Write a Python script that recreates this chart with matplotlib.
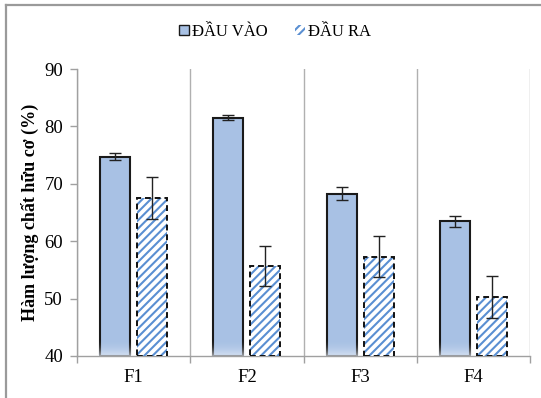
import numpy as np
import matplotlib
matplotlib.use("Agg")
import matplotlib.pyplot as plt
from matplotlib.patches import Patch
from matplotlib.lines import Line2D

categories = ["F1", "F2", "F3", "F4"]
series_names = ["ĐẦU VÀO", "ĐẦU RA"]
dau_vao = [74.7, 81.5, 68.3, 63.5]
dau_vao_err = [0.6, 0.45, 1.2, 0.95]
dau_ra = [67.5, 55.7, 57.3, 50.3]
dau_ra_err = [3.6, 3.55, 3.6, 3.6]
y_ticks = [40, 50, 60, 70, 80, 90]
y_label = "Hàm lượng chất hữu cơ (%)"

plt.rcParams["font.family"] = ["Liberation Serif", "DejaVu Serif"]
plt.rcParams["hatch.linewidth"] = 1.5

fig = plt.figure(figsize=(5.41, 3.98), dpi=100)
ax = fig.add_axes([77 / 541, 1 - 356 / 398, 453 / 541, 287 / 398])

x = np.arange(len(categories)) + 0.5
width = 0.265
offset = 0.164
fill_blue = "#a8c1e4"
stripe_blue = "#5a8fd2"

ax.bar(x - offset, [v - 40 for v in dau_vao], width, bottom=40,
       color=fill_blue, edgecolor="#1a1a1a", linewidth=1.5, zorder=3)
ax.bar(x + offset, [v - 40 for v in dau_ra], width, bottom=40,
       color="white", edgecolor=stripe_blue, linewidth=0, hatch="////", zorder=3)
# dashed black outline for the output bars
ax.bar(x + offset, [v - 40 for v in dau_ra], width, bottom=40,
       fill=False, edgecolor="#111111", linewidth=1.4, linestyle=(0, (3, 2)), zorder=4)

ax.errorbar(x - offset, dau_vao, yerr=dau_vao_err, fmt="none", ecolor="#222222",
            elinewidth=1, capsize=4, capthick=1, zorder=6)
ax.errorbar(x + offset, dau_ra, yerr=dau_ra_err, fmt="none", ecolor="#222222",
            elinewidth=1, capsize=4, capthick=1, zorder=6)

# soft fade at the foot of the input bars
fade = np.ones((64, 1, 4))
fade[..., 3] = np.linspace(0.0, 0.8, 64)[:, None] ** 2
fade[..., 0:3] = np.array([0.93, 0.95, 0.98])
for xc in x - offset:
    ax.imshow(fade, extent=[xc - width / 2 - 0.015, xc + width / 2 + 0.015, 40, 42.8],
              origin="upper", aspect="auto", zorder=5, interpolation="bilinear")

ax.set_xlim(0, len(categories))
ax.set_ylim(40, 90)
ax.set_yticks(y_ticks)
ax.set_yticklabels([str(t) for t in y_ticks], fontsize=13.5)
ax.set_xticks(np.arange(len(categories) + 1))
ax.set_xticklabels([])
ax.set_xticks(x, minor=True)
ax.set_xticklabels(categories, minor=True, fontsize=13.5)
ax.tick_params(axis="x", which="major", length=5, color="#a0a0a0", width=1)
ax.tick_params(axis="x", which="minor", length=0, pad=9)
ax.tick_params(axis="y", length=5, color="#a0a0a0", width=1, pad=5)
ax.xaxis.grid(True, which="major", color="#b0b0b0", linewidth=1)
ax.set_axisbelow(True)

for side in ["top", "right"]:
    ax.spines[side].set_visible(False)
for side in ["left", "bottom"]:
    ax.spines[side].set_color("#a0a0a0")
    ax.spines[side].set_linewidth(1)

ax.set_ylabel(y_label, fontsize=13, fontweight="bold", labelpad=4)

handles = [Patch(facecolor=fill_blue, edgecolor="#1a1a1a", linewidth=1.0),
           Patch(facecolor="white", edgecolor=stripe_blue, hatch="////", linewidth=0)]
fig.legend(handles, series_names, loc="center", bbox_to_anchor=(275 / 541, 1 - 32 / 398),
           ncol=2, frameon=False, fontsize=12, handlelength=0.6, handleheight=0.6,
           handletextpad=0.2, columnspacing=1.6)

# outer frame of the chart area
fig.add_artist(Line2D([6 / 541, 6 / 541], [0, 1 - 5 / 398], transform=fig.transFigure,
                      color="#9a9a9a", linewidth=1.6))
fig.add_artist(Line2D([6 / 541, 1], [1 - 5 / 398, 1 - 5 / 398], transform=fig.transFigure,
                      color="#9a9a9a", linewidth=1.6))

fig.savefig("out.png", dpi=100)
